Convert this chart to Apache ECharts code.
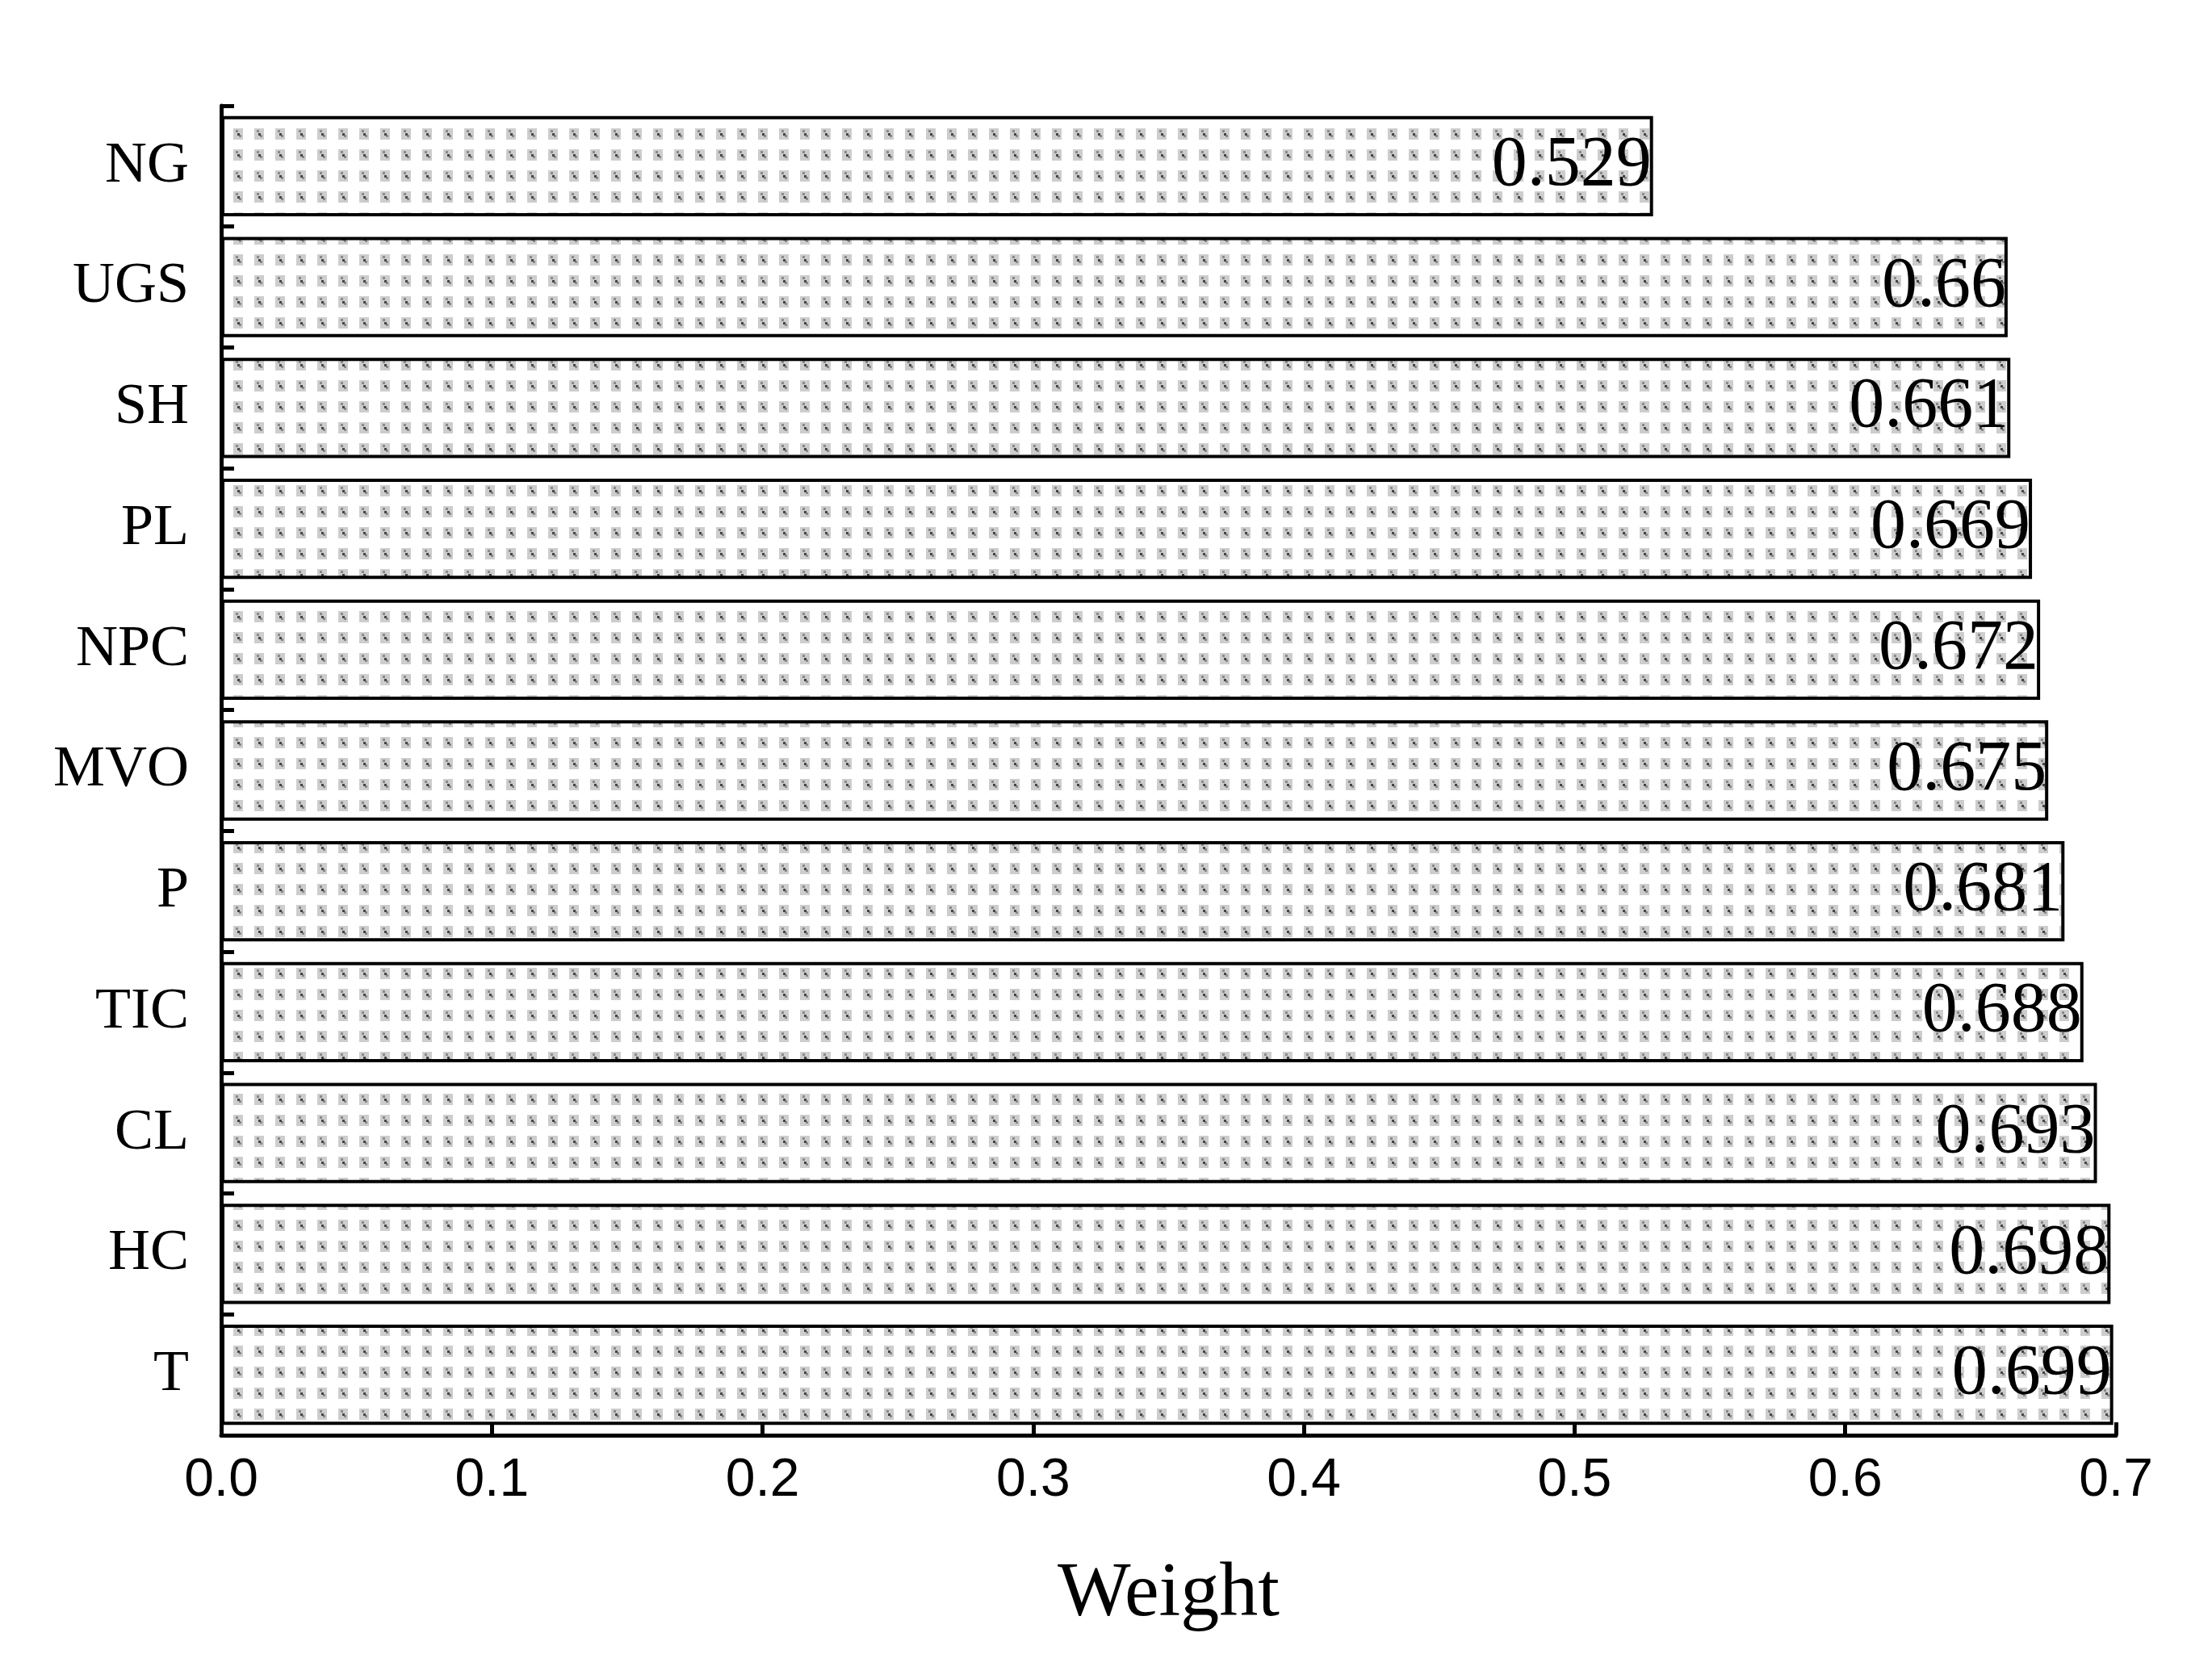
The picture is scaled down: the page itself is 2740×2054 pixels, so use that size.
<!DOCTYPE html>
<html>
<head>
<meta charset="utf-8">
<script src="https://cdn.jsdelivr.net/npm/echarts@6/dist/echarts.min.js"></script>
<style>
  html, body { margin: 0; padding: 0; background: #fff; }
  #chart { width: 2740px; height: 2054px; }
</style>
</head>
<body>
<div id="chart"></div>
<script>
// Data (top to bottom as in the picture)
const categories = ['NG', 'UGS', 'SH', 'PL', 'NPC', 'MVO', 'P', 'TIC', 'CL', 'HC', 'T'];
const weights = [0.529, 0.66, 0.661, 0.669, 0.672, 0.675, 0.681, 0.688, 0.693, 0.698, 0.699];
const xTicks = [0, 0.1, 0.2, 0.3, 0.4, 0.5, 0.6, 0.7];

// dotted fill like the original hatch pattern
function makePattern() {
    const c = document.createElement('canvas');
    c.width = 26; c.height = 26;
    const ctx = c.getContext('2d');
    ctx.fillStyle = '#ffffff';
    ctx.fillRect(0, 0, 26, 26);
    ctx.fillStyle = '#cdcdcd';
    ctx.fillRect(3, 3, 12, 14);
    ctx.fillStyle = '#8a8a8a';
    ctx.fillRect(6, 5, 3, 3);
    ctx.fillRect(10, 11, 3, 3);
    ctx.fillStyle = '#444';
    ctx.fillRect(8, 9, 3, 3);
    return c;
}

const chart = echarts.init(document.getElementById('chart'));
chart.setOption({
    backgroundColor: '#fff',
    animation: false,
    grid: { left: 274, right: 119, top: 131, bottom: 276 },
    xAxis: {
        type: 'value',
        min: 0,
        max: 0.7,
        interval: 0.1,
        name: 'Weight',
        nameLocation: 'middle',
        nameGap: 150,
        nameTextStyle: { fontFamily: 'Liberation Serif', fontSize: 96, color: '#000' },
        axisLine: { show: true, lineStyle: { color: '#000', width: 5 } },
        axisTick: { show: true, inside: true, length: 16, lineStyle: { color: '#000', width: 5 } },
        axisLabel: {
            fontFamily: 'Liberation Sans', fontSize: 66, color: '#000', margin: 24,
            formatter: v => xTicks.includes(Math.round(v * 10) / 10) ? v.toFixed(1) : ''
        },
        splitLine: { show: false }
    },
    yAxis: {
        type: 'category',
        data: categories,
        inverse: true,
        axisLine: { show: true, lineStyle: { color: '#000', width: 5 } },
        axisTick: { show: true, inside: true, length: 16, lineStyle: { color: '#000', width: 5 } },
        axisLabel: { fontFamily: 'Liberation Serif', fontSize: 72, color: '#000', margin: 40 }
    },
    series: [{
        type: 'bar',
        data: weights,
        barCategoryGap: '17%',
        itemStyle: {
            color: { image: makePattern(), repeat: 'repeat' },
            borderColor: '#000',
            borderWidth: 4
        },
        label: {
            show: true,
            position: 'insideRight',
            distance: 2,
            fontFamily: 'Liberation Serif',
            fontSize: 88,
            color: '#000'
        }
    }]
});
</script>
</body>
</html>
